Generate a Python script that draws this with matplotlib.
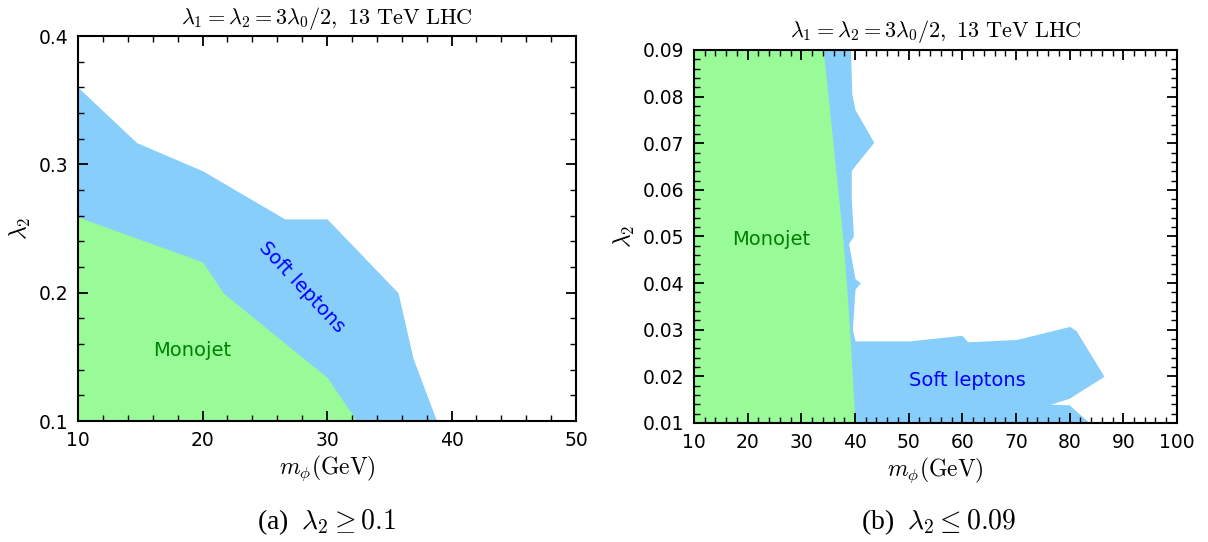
import numpy as np
import matplotlib
matplotlib.use('Agg')
import matplotlib.pyplot as plt
from matplotlib.ticker import MultipleLocator, FormatStrFormatter

plt.rcParams['mathtext.fontset'] = 'cm'

# panel (a): lambda_2 >= 0.1
a_blue_x = [10, 14.7, 20.0, 26.6, 30.0, 35.7, 36.9, 38.8]
a_blue_y = [0.360, 0.317, 0.295, 0.2575, 0.2575, 0.200, 0.149, 0.100]
a_green_x = [10, 20.0, 21.7, 30.0, 32.4]
a_green_y = [0.259, 0.224, 0.1995, 0.134, 0.100]

# panel (b): lambda_2 <= 0.09, right edge of the soft-lepton region (top to bottom)
b_blue_x = [39.25, 39.5, 40.1, 43.6, 40.1, 39.4, 39.4, 39.8, 38.9, 40.1, 41.1, 40.1,
            39.6, 40.1, 50.3, 60.0, 61.1, 70.2, 80.1, 81.3, 86.5, 80.0, 76.5, 80.0, 83.7]
b_blue_y = [0.090, 0.0804, 0.0771, 0.0701, 0.0651, 0.0640, 0.058, 0.050, 0.0484, 0.0408,
            0.0400, 0.0386, 0.030, 0.0275, 0.0275, 0.0287, 0.0273, 0.0278, 0.0306, 0.0297,
            0.0199, 0.0152, 0.0139, 0.0138, 0.010]
# monojet edge
b_green_y = [0.09, 0.08, 0.07, 0.06, 0.05, 0.04, 0.03, 0.02, 0.01]
b_green_x = [34.1, 35.0, 35.9, 36.8, 37.7, 38.4, 39.0, 39.5, 40.0]

title = r'$\lambda_1=\lambda_2=3\lambda_0/2,\ \mathrm{13\ TeV\ LHC}$'
xlab = r'$m_\phi(\mathrm{GeV})$'
blue = '#87cefa'
green = '#98fb98'

fig = plt.figure(figsize=(12.08, 5.42), dpi=100)
ax1 = fig.add_axes([0.0646, 0.2232, 0.4123, 0.7103])
ax2 = fig.add_axes([0.5745, 0.2196, 0.3998, 0.6882])


def style(ax, xmaj, xmin, ymaj, ymin, fmt):
    ax.xaxis.set_major_locator(MultipleLocator(xmaj))
    ax.xaxis.set_minor_locator(MultipleLocator(xmin))
    ax.yaxis.set_major_locator(MultipleLocator(ymaj))
    ax.yaxis.set_minor_locator(MultipleLocator(ymin))
    ax.yaxis.set_major_formatter(FormatStrFormatter(fmt))
    ax.tick_params(which='both', direction='in', top=True, right=True, labelsize=13.5, pad=7)
    ax.tick_params(which='major', length=7, width=1.3)
    ax.tick_params(which='minor', length=4, width=1)
    for s in ax.spines.values():
        s.set_linewidth(1.5)
    ax.set_title(title, fontsize=16, pad=9)
    ax.set_xlabel(xlab, fontsize=17, labelpad=3)
    ax.set_ylabel(r'$\lambda_2$', fontsize=17, labelpad=4)


# (a)
ax1.fill_between(a_blue_x, 0.1, a_blue_y, color=blue, lw=0)
ax1.fill_between(a_green_x, 0.1, a_green_y, color=green, lw=0)
ax1.text(19.2, 0.155, 'Monojet', color='green', fontsize=14, ha='center', va='center')
ax1.text(28.0, 0.2045, 'Soft leptons', color='blue', fontsize=14, ha='center', va='center',
         rotation=-47)
ax1.set_xlim(10, 50)
ax1.set_ylim(0.1, 0.4)
style(ax1, 10, 2, 0.1, 0.02, '%.1f')

# (b)
bx = np.concatenate([[10], b_blue_x, [10]])
by = np.concatenate([[0.09], b_blue_y, [0.01]])
ax2.fill(bx, by, color=blue, lw=0)
ax2.fill_betweenx(b_green_y, 10, b_green_x, color=green, lw=0)
ax2.text(24.3, 0.0494, 'Monojet', color='green', fontsize=14, ha='center', va='center')
ax2.text(61.0, 0.0192, 'Soft leptons', color='blue', fontsize=14, ha='center', va='center')
ax2.set_xlim(10, 100)
ax2.set_ylim(0.01, 0.09)
style(ax2, 10, 2, 0.01, 0.002, '%.2f')

fig.text(0.2705, 0.036, r'(a)  $\lambda_2 \geq 0.1$', ha='center', va='center', fontsize=20,
         family='Liberation Serif')
fig.text(0.777, 0.036, r'(b)  $\lambda_2 \leq 0.09$', ha='center', va='center', fontsize=20,
         family='Liberation Serif')

fig.savefig('out.png', dpi=100)
